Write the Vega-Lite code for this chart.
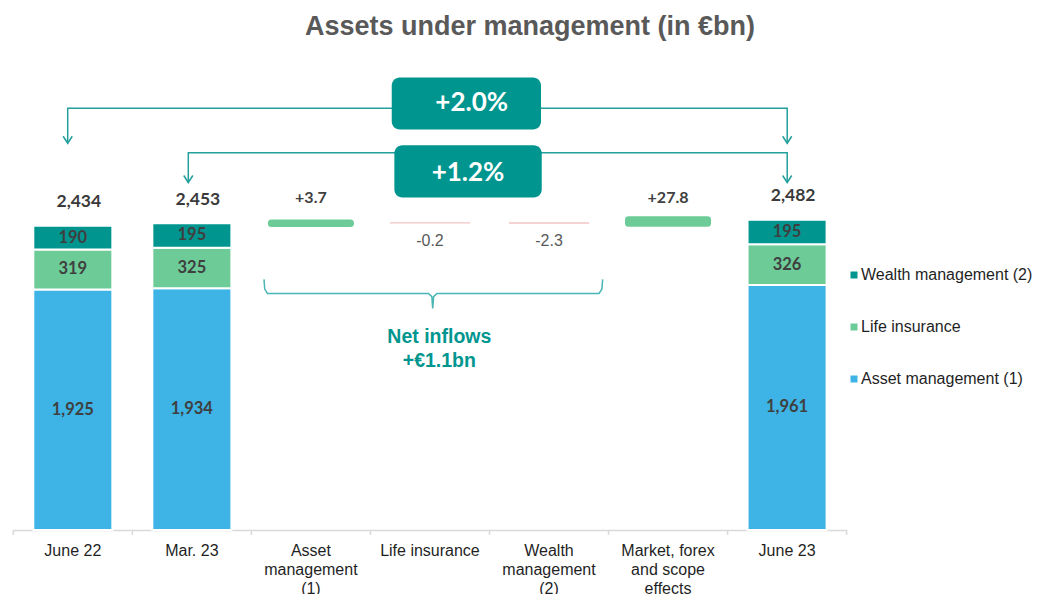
{
  "$schema": "https://vega.github.io/schema/vega-lite/v6.json",
  "autosize": "none",
  "width": 833.3,
  "height": 480,
  "padding": {"left": 13.3, "top": 50, "right": 190.4, "bottom": 64},
  "background": "white",
  "title": {
    "text": "Assets under management (in €bn)",
    "font": "Liberation Sans",
    "fontSize": 27,
    "fontWeight": "bold",
    "color": "#595959",
    "anchor": "middle",
    "frame": "group",
    "dx": 100,
    "offset": 9.5
  },
  "config": {
    "view": {"stroke": null},
    "axisX": {
      "ticks": false,
      "domainColor": "#d9d9d9",
      "domainWidth": 1.5,
      "labelFont": "Liberation Sans",
      "labelFontSize": 16,
      "labelColor": "#1f1f1f",
      "labelPadding": 12,
      "labelLineHeight": 19,
      "labelAngle": 0,
      "labelOverlap": false,
      "labelLimit": 200,
      "grid": false
    },
    "legend": {
      "orient": "none",
      "legendX": 832.7,
      "legendY": 217,
      "symbolType": "square",
      "symbolSize": 49,
      "symbolStrokeWidth": 0,
      "labelFont": "Liberation Sans",
      "labelFontSize": 16,
      "labelColor": "#1f1f1f",
      "labelOffset": -1,
      "labelLimit": 260,
      "rowPadding": 36
    }
  },
  "datasets": {
    "segments": [
      {"cat": "June 22", "segment": "Asset management (1)", "value": 1925},
      {"cat": "June 22", "segment": "Life insurance", "value": 319},
      {"cat": "June 22", "segment": "Wealth management (2)", "value": 190},
      {"cat": "Mar. 23", "segment": "Asset management (1)", "value": 1934},
      {"cat": "Mar. 23", "segment": "Life insurance", "value": 325},
      {"cat": "Mar. 23", "segment": "Wealth management (2)", "value": 195},
      {"cat": "June 23", "segment": "Asset management (1)", "value": 1961},
      {"cat": "June 23", "segment": "Life insurance", "value": 326},
      {"cat": "June 23", "segment": "Wealth management (2)", "value": 195}
    ],
    "totals": [
      {"cat": "June 22", "total": 2434},
      {"cat": "Mar. 23", "total": 2453},
      {"cat": "June 23", "total": 2482}
    ],
    "flows": [
      {"cat": "Asset\nmanagement\n(1)", "start": 2453, "end": 2456.7, "change": 3.7, "label": "+3.7", "sign": "pos"},
      {"cat": "Life insurance", "start": 2456.7, "end": 2456.5, "change": -0.2, "label": "-0.2", "sign": "neg"},
      {"cat": "Wealth\nmanagement\n(2)", "start": 2456.5, "end": 2454.2, "change": -2.3, "label": "-2.3", "sign": "neg"},
      {"cat": "Market, forex\nand scope\neffects", "start": 2454.2, "end": 2482, "change": 27.8, "label": "+27.8", "sign": "pos"}
    ],
    "axisTicks": [
      {"xq": 0, "yv": 0, "yv2": -40},
      {"xq": 1, "yv": 0, "yv2": -40},
      {"xq": 2, "yv": 0, "yv2": -40},
      {"xq": 3, "yv": 0, "yv2": -40},
      {"xq": 4, "yv": 0, "yv2": -40},
      {"xq": 5, "yv": 0, "yv2": -40},
      {"xq": 6, "yv": 0, "yv2": -40},
      {"xq": 7, "yv": 0, "yv2": -40}
    ],
    "connectors": [
      {"conn": "A", "ord": 1, "xq": 0.457, "yv": 3094},
      {"conn": "A", "ord": 2, "xq": 0.457, "yv": 3374},
      {"conn": "A", "ord": 3, "xq": 6.501, "yv": 3374},
      {"conn": "A", "ord": 4, "xq": 6.501, "yv": 3094},
      {"conn": "B", "ord": 1, "xq": 1.47, "yv": 2780},
      {"conn": "B", "ord": 2, "xq": 1.47, "yv": 3018},
      {"conn": "B", "ord": 3, "xq": 6.501, "yv": 3018},
      {"conn": "B", "ord": 4, "xq": 6.501, "yv": 2780}
    ],
    "arrowheads": [
      {"xq": 0.457, "yv": 3094},
      {"xq": 6.501, "yv": 3094},
      {"xq": 1.47, "yv": 2780},
      {"xq": 6.501, "yv": 2780}
    ],
    "boxes": [
      {"label": "+2.0%", "xq": 3.179, "xq2": 4.433, "yv": 3204, "yv2": 3620, "tx": 3.851, "ty": 3417},
      {"label": "+1.2%", "xq": 3.201, "xq2": 4.439, "yv": 2661, "yv2": 3079, "tx": 3.82, "ty": 2853}
    ],
    "brace": [
      {"ord": 1, "xq": 2.106, "yv": 2005},
      {"ord": 2, "xq": 2.112, "yv": 1927},
      {"ord": 3, "xq": 2.135, "yv": 1893},
      {"ord": 4, "xq": 3.488, "yv": 1893},
      {"ord": 5, "xq": 3.516, "yv": 1867},
      {"ord": 6, "xq": 3.523, "yv": 1773},
      {"ord": 7, "xq": 3.531, "yv": 1867},
      {"ord": 8, "xq": 3.559, "yv": 1893},
      {"ord": 9, "xq": 4.92, "yv": 1893},
      {"ord": 10, "xq": 4.944, "yv": 1927},
      {"ord": 11, "xq": 4.951, "yv": 2005}
    ],
    "notes": [
      {"text": "Net inflows", "xq": 3.579, "yv": 1541},
      {"text": "+€1.1bn", "xq": 3.579, "yv": 1354}
    ]
  },
  "layer": [
    {
      "encoding": {
        "x": {
          "field": "cat",
          "type": "nominal",
          "title": null,
          "scale": {
            "domain": ["June 22", "Mar. 23", "Asset\nmanagement\n(1)", "Life insurance", "Wealth\nmanagement\n(2)", "Market, forex\nand scope\neffects", "June 23"],
            "paddingInner": 0.336,
            "paddingOuter": 0.168
          },
          "axis": {"labelExpr": "split(datum.label, '\\n')"}
        }
      },
      "layer": [
        {
          "data": {"name": "segments"},
          "transform": [
            {"stack": "value", "groupby": ["cat"], "sort": [{"field": "segment", "order": "ascending"}], "as": ["v0", "v1"]},
            {"calculate": "(datum.v0 + datum.v1) / 2", "as": "mid"}
          ],
          "layer": [
            {
              "mark": {"type": "bar", "stroke": "white", "strokeWidth": 2},
              "encoding": {
                "y": {"field": "v0", "type": "quantitative", "scale": {"domain": [0, 3840], "nice": false, "zero": false}, "axis": null},
                "y2": {"field": "v1"},
                "color": {
                  "field": "segment",
                  "type": "nominal",
                  "title": null,
                  "scale": {
                    "domain": ["Wealth management (2)", "Life insurance", "Asset management (1)"],
                    "range": ["#00968f", "#6dcb98", "#3db4e5"]
                  }
                }
              }
            },
            {
              "mark": {"type": "text", "font": "Lato", "fontWeight": "bold", "fontSize": 16.5, "color": "#3f3f3f", "baseline": "middle", "align": "center"},
              "encoding": {
                "y": {"field": "mid", "type": "quantitative", "scale": {"domain": [0, 3840], "nice": false, "zero": false}, "axis": null},
                "text": {"field": "value", "type": "quantitative", "format": ","}
              }
            }
          ]
        },
        {
          "data": {"name": "totals"},
          "mark": {"type": "text", "font": "Lato", "fontWeight": "bold", "fontSize": 17.5, "color": "#3a3a3a", "baseline": "middle", "align": "center", "dy": -23.5, "dx": 6},
          "encoding": {
            "y": {"field": "total", "type": "quantitative", "scale": {"domain": [0, 3840], "nice": false, "zero": false}, "axis": null},
            "text": {"field": "total", "type": "quantitative", "format": ","}
          }
        },
        {
          "data": {"name": "flows"},
          "transform": [{"filter": "datum.sign == 'pos'"}],
          "layer": [
            {
              "mark": {"type": "bar", "color": "#6dcb98", "stroke": "#6dcb98", "strokeWidth": 7, "strokeJoin": "round"},
              "encoding": {
                "y": {"field": "start", "type": "quantitative", "scale": {"domain": [0, 3840], "nice": false, "zero": false}, "axis": null},
                "y2": {"field": "end"}
              }
            },
            {
              "mark": {"type": "text", "font": "Lato", "fontWeight": "bold", "fontSize": 16, "color": "#404040", "baseline": "middle", "align": "center", "dy": -25.5},
              "encoding": {
                "y": {"field": "start", "type": "quantitative", "scale": {"domain": [0, 3840], "nice": false, "zero": false}, "axis": null},
                "text": {"field": "label", "type": "nominal"}
              }
            }
          ]
        },
        {
          "data": {"name": "flows"},
          "transform": [{"filter": "datum.sign == 'neg'"}],
          "layer": [
            {
              "mark": {"type": "bar", "color": "#f3c6c6", "stroke": "#f3c6c6", "strokeWidth": 1.2},
              "encoding": {
                "y": {"field": "start", "type": "quantitative", "scale": {"domain": [0, 3840], "nice": false, "zero": false}, "axis": null},
                "y2": {"field": "end"}
              }
            },
            {
              "mark": {"type": "text", "font": "Liberation Sans", "fontSize": 16, "color": "#595959", "baseline": "middle", "align": "center", "dy": 18},
              "encoding": {
                "y": {"field": "end", "type": "quantitative", "scale": {"domain": [0, 3840], "nice": false, "zero": false}, "axis": null},
                "text": {"field": "label", "type": "nominal"}
              }
            }
          ]
        }
      ]
    },
    {
      "encoding": {
        "x": {"field": "xq", "type": "quantitative", "scale": {"domain": [0, 7], "nice": false, "zero": false}, "axis": null},
        "y": {"field": "yv", "type": "quantitative", "scale": {"domain": [0, 3840], "nice": false, "zero": false}, "axis": null}
      },
      "layer": [
        {
          "data": {"name": "axisTicks"},
          "mark": {"type": "rule", "color": "#d9d9d9", "strokeWidth": 1.5},
          "encoding": {
            "y2": {"field": "yv2"}
          }
        },
        {
          "data": {"name": "connectors"},
          "mark": {"type": "line", "color": "#23a09c", "strokeWidth": 1.5},
          "encoding": {
            "detail": {"field": "conn", "type": "nominal"},
            "order": {"field": "ord", "type": "quantitative"}
          }
        },
        {
          "data": {"name": "arrowheads"},
          "mark": {"type": "point", "shape": "M-0.65,-1L0,0L0.65,-1", "size": 196, "filled": false, "stroke": "#23a09c", "strokeWidth": 1.5, "opacity": 1},
          "encoding": {}
        },
        {
          "data": {"name": "boxes"},
          "mark": {"type": "rect", "color": "#00968f", "cornerRadius": 8},
          "encoding": {
            "x2": {"field": "xq2"},
            "y2": {"field": "yv2"}
          }
        },
        {
          "data": {"name": "boxes"},
          "mark": {"type": "text", "font": "Lato", "fontWeight": "bold", "fontSize": 26, "color": "white", "baseline": "middle", "align": "center"},
          "encoding": {
            "x": {"field": "tx", "type": "quantitative", "scale": {"domain": [0, 7], "nice": false, "zero": false}, "axis": null},
            "y": {"field": "ty", "type": "quantitative", "scale": {"domain": [0, 3840], "nice": false, "zero": false}, "axis": null},
            "text": {"field": "label", "type": "nominal"}
          }
        },
        {
          "data": {"name": "brace"},
          "mark": {"type": "line", "color": "#4ab5b3", "strokeWidth": 1.5},
          "encoding": {
            "order": {"field": "ord", "type": "quantitative"}
          }
        },
        {
          "data": {"name": "notes"},
          "mark": {"type": "text", "font": "Liberation Sans", "fontWeight": "bold", "fontSize": 19.5, "color": "#00968f", "baseline": "middle", "align": "center"},
          "encoding": {
            "text": {"field": "text", "type": "nominal"}
          }
        }
      ]
    }
  ],
  "resolve": {"scale": {"x": "independent"}}
}
